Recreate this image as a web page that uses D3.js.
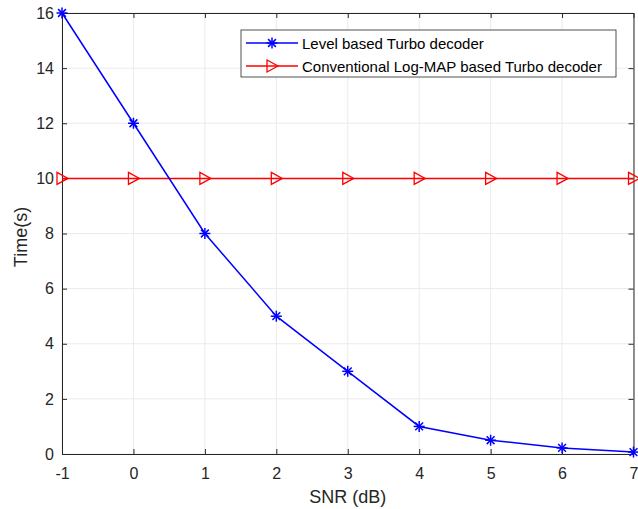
<!DOCTYPE html>
<html>
<head>
<meta charset="utf-8">
<script src="https://cdn.jsdelivr.net/npm/d3@7"></script>
<style>
  body { margin: 0; background: #fff; }
  svg { font-family: "Liberation Sans", Arial, sans-serif; }
</style>
</head>
<body>
<div id="chart"></div>
<script>
// DATA
const snr = [-1, 0, 1, 2, 3, 4, 5, 6, 7];
const levelTime = [16, 12, 8, 5, 3, 1, 0.5, 0.22, 0.07];
const logMapTime = [10, 10, 10, 10, 10, 10, 10, 10, 10];
const xTicks = [-1, 0, 1, 2, 3, 4, 5, 6, 7];
const yTicks = [0, 2, 4, 6, 8, 10, 12, 14, 16];
const seriesNames = ["Level based Turbo decoder", "Conventional Log-MAP based Turbo decoder"];

// SIZES
const width = 638, height = 509;
const margin = {top: 13, right: 4.5, bottom: 55, left: 62};
const axisColor = "#262626";

const svg = d3.select("#chart").append("svg")
    .attr("width", width)
    .attr("height", height);

const x = d3.scaleLinear().domain([-1, 7]).range([margin.left, width - margin.right]);
const y = d3.scaleLinear().domain([0, 16]).range([height - margin.bottom, margin.top]);

// GRID
svg.append("g").selectAll("line").data(xTicks).enter().append("line")
    .attr("x1", d => x(d)).attr("x2", d => x(d))
    .attr("y1", y(0)).attr("y2", y(16))
    .attr("stroke", "#ebebeb");
svg.append("g").selectAll("line").data(yTicks).enter().append("line")
    .attr("x1", x(-1)).attr("x2", x(7))
    .attr("y1", d => y(d)).attr("y2", d => y(d))
    .attr("stroke", "#ebebeb");

// AXES (ticks inside like matlab)
function styleAxis(g) {
    g.select(".domain").attr("stroke", axisColor);
    g.selectAll(".tick line").attr("stroke", axisColor);
    g.selectAll(".tick text").attr("fill", axisColor).style("font-size", "16px");
}
const fmt = d => String(d);
svg.append("g")
    .attr("transform", "translate(0," + y(0) + ")")
    .call(d3.axisBottom(x).tickValues(xTicks).tickFormat(fmt).tickSizeInner(-5).tickSizeOuter(0).tickPadding(14))
    .call(styleAxis);
svg.append("g")
    .attr("transform", "translate(" + x(-1) + ",0)")
    .call(d3.axisLeft(y).tickValues(yTicks).tickFormat(fmt).tickSizeInner(-5).tickSizeOuter(0).tickPadding(8))
    .call(styleAxis);
svg.append("g")
    .attr("transform", "translate(0," + y(16) + ")")
    .call(d3.axisTop(x).tickValues(xTicks).tickSizeInner(-5).tickSizeOuter(0).tickFormat(""))
    .call(styleAxis);
svg.append("g")
    .attr("transform", "translate(" + x(7) + ",0)")
    .call(d3.axisRight(y).tickValues(yTicks).tickSizeInner(-5).tickSizeOuter(0).tickFormat(""))
    .call(styleAxis);

// AXIS LABELS
svg.append("text")
    .attr("x", (x(-1) + x(7)) / 2)
    .attr("y", 503)
    .attr("text-anchor", "middle")
    .attr("fill", axisColor)
    .style("font-size", "18px")
    .text("SNR (dB)");
svg.append("text")
    .attr("transform", "translate(27,237) rotate(-90)")
    .attr("text-anchor", "middle")
    .attr("fill", axisColor)
    .style("font-size", "18px")
    .text("Time(s)");

// MARKERS
function asterisk(g, r) {
    for (let a = 0; a < 4; a++) {
        const ang = a * Math.PI / 4;
        g.append("line")
            .attr("x1", -r * Math.cos(ang)).attr("y1", -r * Math.sin(ang))
            .attr("x2", r * Math.cos(ang)).attr("y2", r * Math.sin(ang));
    }
}
const triPath = "M-5,-6L6,0L-5,6Z";

const line = d3.line().x(d => x(d[0])).y(d => y(d[1]));

// RED SERIES
const redData = snr.map((s, i) => [s, logMapTime[i]]);
svg.append("path").datum(redData)
    .attr("d", line).attr("fill", "none").attr("stroke", "#ff0000").attr("stroke-width", 1.5);
svg.append("g").selectAll("path").data(redData).enter().append("path")
    .attr("transform", d => "translate(" + x(d[0]) + "," + y(d[1]) + ")")
    .attr("d", triPath).attr("fill", "none").attr("stroke", "#ff0000").attr("stroke-width", 1.3);

// BLUE SERIES
const blueData = snr.map((s, i) => [s, levelTime[i]]);
svg.append("path").datum(blueData)
    .attr("d", line).attr("fill", "none").attr("stroke", "#0000ff").attr("stroke-width", 1.5);
svg.append("g").selectAll("g").data(blueData).enter().append("g")
    .attr("transform", d => "translate(" + x(d[0]) + "," + y(d[1]) + ")")
    .attr("stroke", "#0000ff").attr("stroke-width", 1.5)
    .each(function() { asterisk(d3.select(this), 5.5); });

// LEGEND
const legend = svg.append("g").attr("transform", "translate(241,30)");
legend.append("rect")
    .attr("width", 375).attr("height", 47)
    .attr("fill", "#fff").attr("stroke", "#262626").attr("stroke-width", 0.8);
const colors = ["#0000ff", "#ff0000"];
seriesNames.forEach((name, i) => {
    const row = legend.append("g").attr("transform", "translate(0," + (13 + i * 23) + ")");
    row.append("line")
        .attr("x1", 5).attr("x2", 57).attr("y1", 0).attr("y2", 0)
        .attr("stroke", colors[i]).attr("stroke-width", 1.5);
    if (i === 0) {
        const m = row.append("g").attr("transform", "translate(31,0)")
            .attr("stroke", colors[i]).attr("stroke-width", 1.5);
        asterisk(m, 5.5);
    } else {
        row.append("path").attr("transform", "translate(31,0)")
            .attr("d", triPath).attr("fill", "none").attr("stroke", colors[i]).attr("stroke-width", 1.3);
    }
    row.append("text")
        .attr("x", 61).attr("y", 6)
        .attr("fill", "#000")
        .style("font-size", "15px")
        .text(name);
});
</script>
</body>
</html>
